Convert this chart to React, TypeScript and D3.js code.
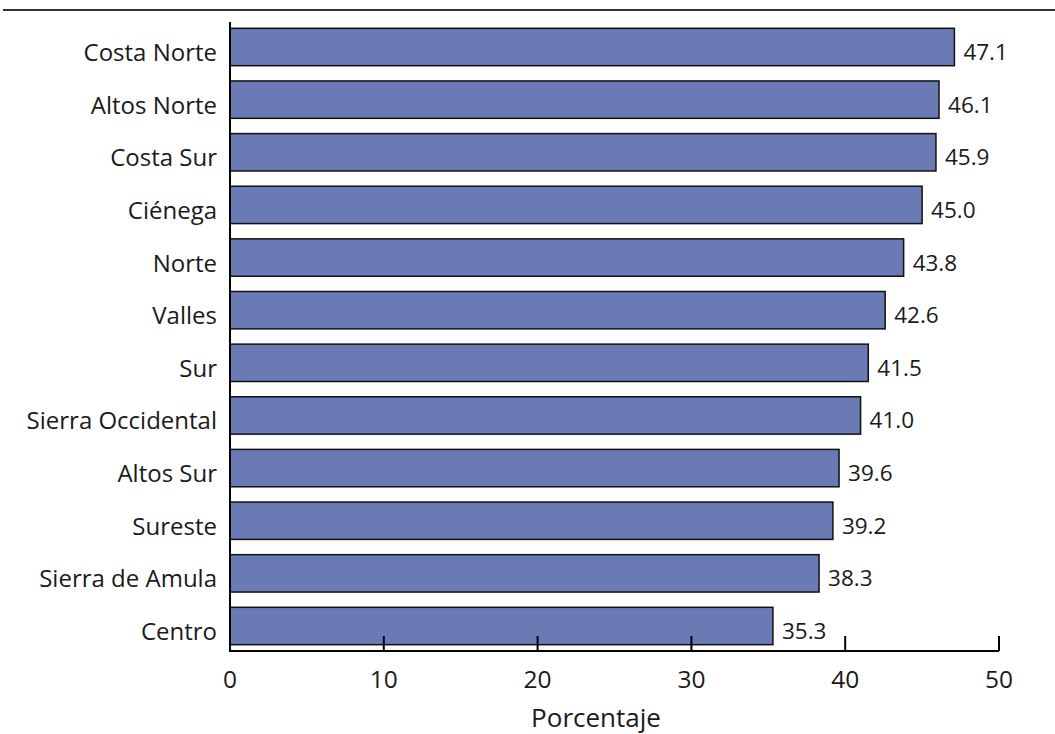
import React from 'react';
import * as d3 from 'd3';

const regions = [
  'Costa Norte',
  'Altos Norte',
  'Costa Sur',
  'Ciénega',
  'Norte',
  'Valles',
  'Sur',
  'Sierra Occidental',
  'Altos Sur',
  'Sureste',
  'Sierra de Amula',
  'Centro',
];
const values = [47.1, 46.1, 45.9, 45.0, 43.8, 42.6, 41.5, 41.0, 39.6, 39.2, 38.3, 35.3];
const xTicks = [0, 10, 20, 30, 40, 50];
const xTitle = 'Porcentaje';

const width = 1055;
const height = 734;
const font = '"Open Sans", "Noto Sans", sans-serif';

export default function App() {
  const x = d3.scaleLinear().domain([0, 50]).range([230, 999]);
  const y = d3
    .scaleBand<string>()
    .domain(regions)
    .range([22, 651])
    .paddingInner(0.29)
    .paddingOuter(0.12);
  const axisY = 651;
  const mid = (r: string) => (y(r) ?? 0) + y.bandwidth() / 2;

  return (
    <svg
      width={width}
      height={height}
      style={{ position: 'absolute', left: 0, top: 0, background: '#fff' }}
      fontFamily={font}
    >
      {/* rule under the (cut off) heading */}
      <line x1={3} x2={width} y1={10} y2={10} stroke="#333" strokeWidth={2} />

      {/* bars */}
      {regions.map((r, i) => (
        <g key={r}>
          <rect
            x={x(0)}
            y={y(r)}
            width={x(values[i]) - x(0)}
            height={y.bandwidth()}
            fill="#6a7ab5"
            stroke="#111"
            strokeWidth={1.5}
          />
          <text x={x(values[i]) + 9} y={mid(r) + 13} fontSize={22.5} fill="#1a1a1a">
            {values[i].toFixed(1)}
          </text>
          <text x={217} y={mid(r) + 14} textAnchor="end" fontSize={24} fill="#1a1a1a">
            {r}
          </text>
        </g>
      ))}

      {/* axes */}
      <line x1={x(0)} x2={x(0)} y1={22} y2={axisY + 1} stroke="#000" strokeWidth={2} />
      <line x1={x(0)} x2={x(50)} y1={axisY} y2={axisY} stroke="#000" strokeWidth={2} />
      {xTicks.map((t) => (
        <g key={t}>
          <line x1={x(t)} x2={x(t)} y1={axisY - 15} y2={axisY} stroke="#000" strokeWidth={2} />
          <text x={x(t)} y={688} textAnchor="middle" fontSize={24.5} fill="#1a1a1a">
            {t}
          </text>
        </g>
      ))}
      <text x={596} y={727} textAnchor="middle" fontSize={26} fill="#1a1a1a">
        {xTitle}
      </text>
    </svg>
  );
}
